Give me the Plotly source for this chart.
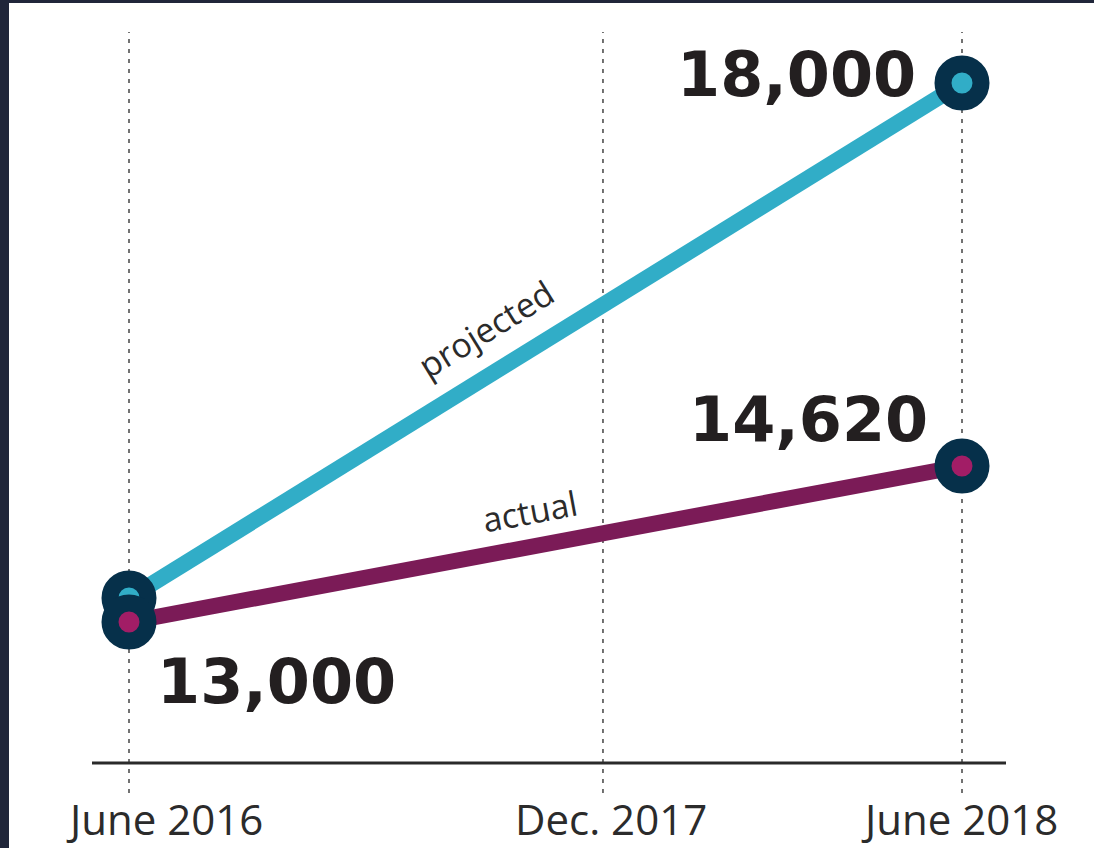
import plotly.graph_objects as go

# ---- data ----
periods = ["June 2016", "Dec. 2017", "June 2018"]
period_pos = [0.0, 0.569, 1.0]          # relative position of each period on the time axis
series_x = [0.0, 1.0]                    # June 2016 -> June 2018
projected = [13000, 18000]
actual = [13000, 14620]
value_labels = ["13,000", "18,000", "14,620"]

# ---- styles ----
W, H = 1094, 848
TEAL = "#31adc7"
MAGENTA = "#7b1b57"
MAG_DOT = "#a21d66"
NAVY = "#06304a"
TEXT = "#2b2b2b"
NUM = "#231f20"

fig = go.Figure()

fig.add_trace(go.Scatter(
    x=series_x, y=projected, mode="lines+markers", yaxis="y",
    line=dict(color=TEAL, width=16),
    marker=dict(size=38, color=TEAL, line=dict(color=NAVY, width=17)),
    cliponaxis=False, hoverinfo="skip", showlegend=False))

fig.add_trace(go.Scatter(
    x=series_x, y=actual, mode="lines+markers", yaxis="y2",
    line=dict(color=MAGENTA, width=16),
    marker=dict(size=38, color=MAG_DOT, line=dict(color=NAVY, width=17)),
    cliponaxis=False, hoverinfo="skip", showlegend=False))

# pixel mapping helpers (plot area = whole page)
x_px0, x_px1 = 129, 962
xs = (x_px1 - x_px0)
x_range = [-x_px0 / xs, -x_px0 / xs + W / xs]

def yrange(v_a, p_a, v_b, p_b):
    k = (p_a - p_b) / (v_b - v_a)
    top = v_b + p_b / k
    return [top - H / k, top]

y_range = yrange(projected[0], 598, projected[1], 83)
y2_range = yrange(actual[0], 622, actual[1], 466)

def px_x(p):
    return p / W

def px_y(p):
    return 1 - p / H

shapes = [
    dict(type="rect", xref="paper", yref="paper", x0=px_x(9), x1=1.01, y0=-0.01, y1=px_y(3),
         fillcolor="white", line=dict(width=0), layer="below"),
]
for p in period_pos:
    shapes.append(dict(type="line", xref="x", yref="paper", x0=p, x1=p,
                       y0=px_y(793), y1=px_y(32),
                       line=dict(color="#444444", width=1.5, dash="4px,6px"), layer="below"))
shapes.append(dict(type="line", xref="paper", yref="paper", x0=px_x(92), x1=px_x(1006),
                   y0=px_y(763), y1=px_y(763), line=dict(color="#2a2a2a", width=3)))

annotations = []
tick_shift = [35, 8, -3]
for p, t, s in zip(period_pos, periods, tick_shift):
    annotations.append(dict(x=p, y=px_y(818), xref="x", yref="paper", text=t, showarrow=False,
                            xanchor="center", yanchor="middle", xshift=s,
                            font=dict(family="Open Sans", size=42, color=TEXT)))

numfont = dict(family="DejaVu Sans", size=62, color=NUM, weight="bold")
annotations += [
    dict(x=series_x[0], y=actual[0], xref="x", yref="y2", text=value_labels[0], showarrow=False,
         xanchor="left", yanchor="middle", xshift=26, yshift=-59, font=numfont),
    dict(x=series_x[1], y=projected[1], xref="x", yref="y", text=value_labels[1], showarrow=False,
         xanchor="right", yanchor="middle", xshift=-44, yshift=9, font=numfont),
    dict(x=series_x[1], y=actual[1], xref="x", yref="y2", text=value_labels[2], showarrow=False,
         xanchor="right", yanchor="middle", xshift=-32, yshift=47, font=numfont),
    dict(x=0.43, y=(projected[0] + (projected[1] - projected[0]) * 0.43), xref="x", yref="y",
         text="projected", showarrow=False, textangle=-31.7, xanchor="center", yanchor="middle",
         xshift=-2, yshift=48, font=dict(family="Open Sans", size=34, color=TEXT)),
    dict(x=0.485, y=(actual[0] + (actual[1] - actual[0]) * 0.485), xref="x", yref="y2",
         text="actual", showarrow=False, textangle=-10.6, xanchor="center", yanchor="middle",
         xshift=-3, yshift=35, font=dict(family="Open Sans", size=34, color=TEXT)),
]

fig.update_layout(
    width=W, height=H, margin=dict(l=0, r=0, t=0, b=0, pad=0),
    paper_bgcolor="#20263a", plot_bgcolor="rgba(0,0,0,0)",
    xaxis=dict(range=x_range, visible=False, fixedrange=True),
    yaxis=dict(range=y_range, visible=False, fixedrange=True),
    yaxis2=dict(range=y2_range, visible=False, overlaying="y", fixedrange=True),
    shapes=shapes, annotations=annotations, showlegend=False,
)

fig.write_html("out.html", config={"displayModeBar": False},
               post_script="document.body.style.margin='0';")
